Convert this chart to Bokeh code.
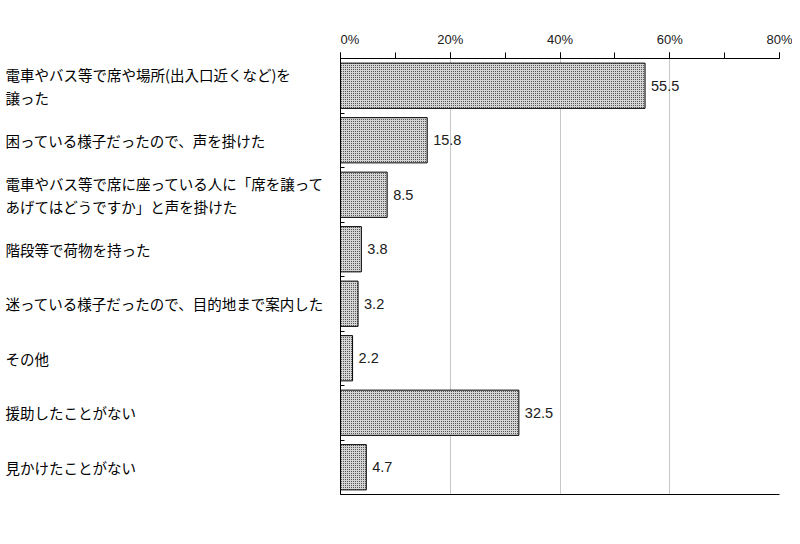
from bokeh.plotting import figure
from bokeh.layouts import row
from bokeh.models import (Range1d, LinearAxis, FixedTicker, PrintfTickFormatter,
                          ColumnDataSource, LabelSet)
from bokeh.core.properties import value
from bokeh.embed import file_html
from bokeh.resources import INLINE

categories = [
    "電車やバス等で席や場所(出入口近くなど)を\n譲った",
    "困っている様子だったので、声を掛けた",
    "電車やバス等で席に座っている人に「席を譲って\nあげてはどうですか」と声を掛けた",
    "階段等で荷物を持った",
    "迷っている様子だったので、目的地まで案内した",
    "その他",
    "援助したことがない",
    "見かけたことがない",
]
values = [55.5, 15.8, 8.5, 3.8, 3.2, 2.2, 32.5, 4.7]
x_ticks = [0, 20, 40, 60, 80]
x_minor = [0, 10, 20, 30, 40, 50, 60, 70, 80]

n = len(categories)
pos = [i + 0.5 for i in range(n)]

JP = "Noto Sans CJK JP"
TOP = 58
FH = 436
yr = Range1d(n, 0)

# left panel with category texts
lf = figure(frame_width=340, frame_height=FH, output_backend="svg",
            toolbar_location=None, x_range=Range1d(0, 340), y_range=yr,
            x_axis_location=None, y_axis_location=None,
            min_border_left=0, min_border_right=0, min_border_top=TOP,
            min_border_bottom=20)
lf.outline_line_color = None
lf.grid.grid_line_color = None
lsrc = ColumnDataSource(dict(x=[5] * n, y=pos, t=categories))
lf.text(x="x", y="y", text="t", source=lsrc, text_baseline="middle",
        text_align="left", text_font=value(JP), text_font_size="14.5px",
        text_line_height=1.1, text_color="#000000")

p = figure(frame_width=439, frame_height=FH, output_backend="svg",
           toolbar_location=None, x_range=Range1d(0, 80), y_range=yr,
           x_axis_location=None, y_axis_location=None,
           min_border_left=0, min_border_top=TOP, min_border_right=13,
           min_border_bottom=20)
p.outline_line_color = None

p.xgrid.ticker = FixedTicker(ticks=[20, 40, 60, 80])
p.xgrid.grid_line_color = "#c8c8c8"
p.xgrid.grid_line_width = 1
p.ygrid.grid_line_color = None

src = ColumnDataSource(dict(y=pos, v=values, lab=[f"{v:.1f}" for v in values]))
p.hbar(y="y", right="v", left=0, height=0.83, source=src,
       fill_color="#d4d4d4", line_color="black", line_width=1,
       hatch_pattern="dot", hatch_color="#303030", hatch_scale=2, hatch_weight=1)

p.add_layout(LabelSet(x="v", y="y", text="lab", source=src, x_offset=6,
                      text_baseline="middle", text_font_size="14.5px",
                      text_font=value("Liberation Sans"), text_color="#202020"))

top = LinearAxis(ticker=FixedTicker(ticks=x_ticks, minor_ticks=x_minor),
                 formatter=PrintfTickFormatter(format="%d%%"))
top.major_tick_in = 0
top.major_tick_out = 6
top.minor_tick_in = 0
top.minor_tick_out = 6
top.axis_line_color = "black"
top.major_tick_line_color = "black"
top.minor_tick_line_color = "black"
top.major_label_text_font = "Liberation Sans"
top.major_label_text_font_size = "13px"
top.major_label_text_color = "#202020"
top.major_label_standoff = 6
p.add_layout(top, "above")

bot = LinearAxis(ticker=FixedTicker(ticks=[]))
bot.axis_line_color = "black"
bot.major_tick_line_color = None
bot.minor_tick_line_color = None
p.add_layout(bot, "below")

bticks = list(range(n + 1))
left = LinearAxis(ticker=FixedTicker(ticks=bticks))
left.axis_line_color = "black"
left.major_label_overrides = {t: "" for t in bticks}
left.major_label_standoff = 0
left.major_tick_in = 4
left.major_tick_out = 0
left.major_tick_line_color = "black"
left.minor_tick_line_color = None
p.add_layout(left, "left")

layout = row(lf, p)
open("out.html", "w").write(file_html(layout, INLINE))
